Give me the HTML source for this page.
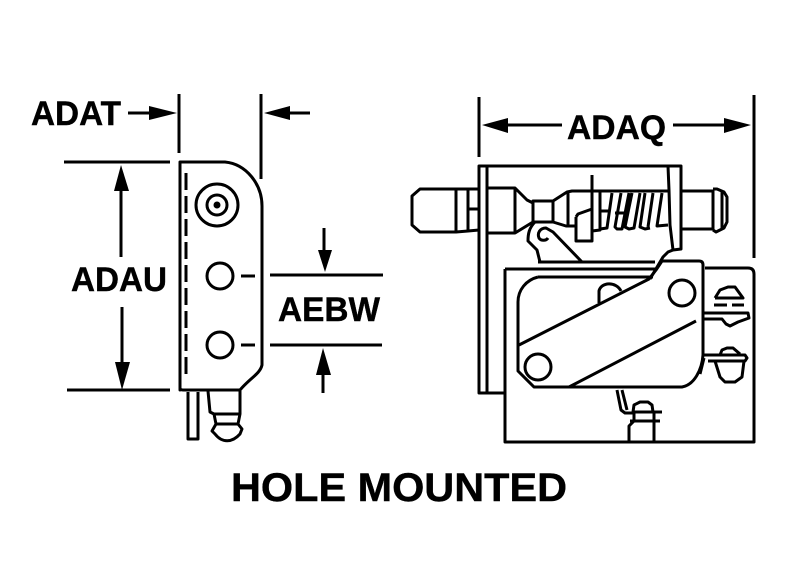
<!DOCTYPE html>
<html><head><meta charset="utf-8"><style>html,body{margin:0;padding:0;background:#fff;width:788px;height:572px;overflow:hidden}svg{display:block}text{font-family:"Liberation Sans",sans-serif;font-weight:bold;fill:#000;stroke:#000;stroke-width:.4}</style></head>
<body><svg width="788" height="572" viewBox="0 0 788 572" xmlns="http://www.w3.org/2000/svg">
<rect width="788" height="572" fill="#fff"/>
<text x="31" y="125" font-size="34" textLength="90" lengthAdjust="spacingAndGlyphs">ADAT</text>
<text x="71" y="291" font-size="34" textLength="96" lengthAdjust="spacingAndGlyphs">ADAU</text>
<text x="278" y="321" font-size="34" textLength="102" lengthAdjust="spacingAndGlyphs">AEBW</text>
<text x="567" y="139" font-size="34" textLength="99" lengthAdjust="spacingAndGlyphs">ADAQ</text>
<text x="231" y="501" font-size="40" textLength="336" lengthAdjust="spacingAndGlyphs">HOLE MOUNTED</text>
<g fill="#000" stroke="none">
<path d="M177 113L149 106V120Z"/><path d="M264 113L290 106V120Z"/>
<path d="M121 165L114 191H129Z"/><path d="M122 390L115 362H130Z"/>
<path d="M325 272L318 250H332Z"/><path d="M323 348L316 375H331Z"/>
<path d="M482 125L508 118V133Z"/><path d="M751 125L724 118V133Z"/>
</g>
<g fill="none" stroke="#000" stroke-width="3" stroke-linejoin="round">
<path d="M179 94V153M261 94V179M128 113H157M290 113H310M64 162H170M67 390H170M121 185V257M122 307V370M324 228V255M323 370V393M270 275H383M270 345H382M241 276H255M241 345H255"/>
<path d="M479 97V157M754 95V258M508 125H562M673 125H730"/>
<path d="M180 390V162H225C246 164 262 184 262 206V365C260 374 250 378 240 390H183Q180 390 180 388Z"/>
<path d="M186 173V375" stroke-dasharray="17 6"/>
<circle cx="217" cy="205" r="21"/><circle cx="217" cy="205" r="10"/><circle cx="217" cy="205" r="2" fill="#000"/>
<circle cx="220" cy="276" r="13"/><circle cx="220" cy="345" r="13"/>
<path d="M188 392V439H198V392"/>
<path d="M208 391L210 412L214 414H240V391M214 414L216 424H238L240 414M216 424L212 431L215 434C222 443 232 443 240 434L242 429L238 424"/>

<path d="M505 269V393H479V166H681V249L673 250L668 252L663 257L650 279"/>
<path d="M487 166V393M668 166L669 190L670 225L673 250"/>
<path d="M479 189H470L456 189H420L412 196V225L420 232H456L468 231L479 230M456 189V232M468 190V231M468 209H479"/>
<path d="M487 188H515L527 200L533 203M487 233H515L533 222M515 188V233"/>
<rect x="533" y="201" width="20" height="21"/>
<path d="M553 201L567 192L572 191H668M553 222L566 226H576M568 192V226"/>
<path d="M576 217L578 214L592 209M576 217V241H592V175M600 192V230L592 231"/>
<path d="M612 193L607 228L600 229M621 193L615 227L617 229H622L629 193M632 193L625 227L629 229L634 228L640 193M645 193L640 227L645 229L650 228M653 193L648 227M662 193L657 226L668 225M600 211H610M615 213H627"/>
<path d="M681 191H713M682 229H713M713 190V230M713 189H717L724 192L727 197V222L724 228L716 232L713 230M722 191V230"/>
<path d="M535 222C529 228 528 234 528 241L537 250L540 262H582M582 262L553 232L546 228C540 228 537 233 539 238C541 241 546 241 548 238"/>
<path d="M505 269H655M538 262H655M705 268H748Q754 268 754 274V442H505V270"/>
<path d="M538 277H653M538 277C526 280 518 290 518 302V371L534 387H682C694 385 702 370 703 355V265Q703 261 699 261H662L656 270L649 279L519 345M569 387L696 321"/>
<circle cx="538" cy="367" r="13"/><circle cx="682" cy="293" r="13"/>
<path d="M599 303V291C601 282 616 281 621 291"/>
<path d="M715 298L720 290L728 287H735L743 298H715M714 305H727M732 305H744"/>
<path d="M704 313H748L749 318L738 322L730 326L726 324L722 319H704"/>
<path d="M704 355H745L747 358L745 361H708M720 355L722 350L727 348H733L740 354M715 361L720 377L725 382H735L742 377L744 361M704 358L700 374"/>
<path d="M617 390L621 410L625 413H633M622 390L627 410M662 412H633L634 405L640 402H648L652 405L653 412M630 421H660M634 412V421L629 426V441M654 412V441"/>
</g>
</svg></body></html>
